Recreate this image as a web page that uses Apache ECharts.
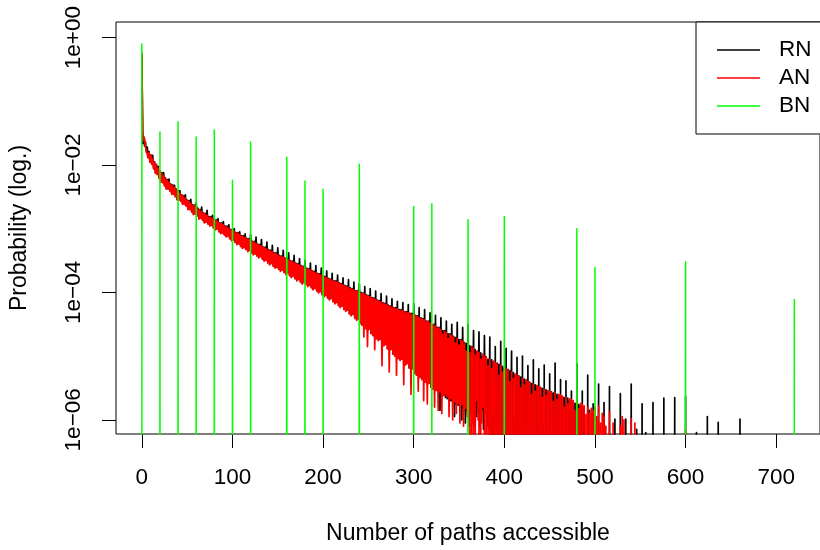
<!DOCTYPE html>
<html>
<head>
<meta charset="utf-8">
<script src="https://cdn.jsdelivr.net/npm/echarts@6/dist/echarts.min.js"></script>
<style>html,body{margin:0;padding:0;background:#fff}#c{width:820px;height:550px}</style>
</head>
<body>
<div id="c"></div>
<script>
// ---- tick labels ----
const xTicks = [0, 100, 200, 300, 400, 500, 600, 700];
const yTicks = [-6, -4, -2, 0];           // log10 of probability
const seriesNames = ['RN', 'AN', 'BN'];

// ---- RN: log10(probability) for x = 0,1,2,... (null = probability 0) ----
const rnLog10 = [
-0.26,-1.66,-1.55,-1.70,-1.64,-1.80,
-1.72,-1.88,-1.79,-1.95,-1.84,-1.98,
-1.85,-2.05,-1.95,-2.12,-1.99,-2.14,
-2.02,-2.20,-2.09,-2.26,-2.12,-2.27,
-2.12,-2.32,-2.20,-2.37,-2.23,-2.37,
-2.22,-2.40,-2.30,-2.45,-2.31,-2.45,
-2.32,-2.49,-2.38,-2.54,-2.40,-2.54,
-2.40,-2.56,-2.47,-2.61,-2.48,-2.61,
-2.47,-2.64,-2.55,-2.69,-2.56,-2.69,
-2.54,-2.73,-2.62,-2.77,-2.63,-2.76,
-2.59,-2.79,-2.68,-2.84,-2.70,-2.83,
-2.66,-2.86,-2.75,-2.90,-2.76,-2.89,
-2.71,-2.92,-2.81,-2.95,-2.81,-2.94,
-2.79,-2.98,-2.86,-3.01,-2.86,-3.00,
-2.84,-3.04,-2.91,-3.07,-2.91,-3.06,
-2.89,-3.09,-2.96,-3.12,-2.96,-3.11,
-2.94,-3.15,-3.01,-3.18,-3.01,-3.17,
-3.00,-3.21,-3.06,-3.24,-3.06,-3.23,
-3.05,-3.27,-3.11,-3.30,-3.11,-3.29,
-3.08,-3.32,-3.15,-3.35,-3.16,-3.33,
-3.09,-3.37,-3.20,-3.40,-3.20,-3.39,
-3.13,-3.42,-3.24,-3.45,-3.25,-3.43,
-3.17,-3.47,-3.29,-3.50,-3.29,-3.49,
-3.21,-3.53,-3.33,-3.56,-3.34,-3.54,
-3.26,-3.58,-3.38,-3.61,-3.38,-3.60,
-3.30,-3.63,-3.42,-3.66,-3.43,-3.64,
-3.34,-3.68,-3.46,-3.71,-3.47,-3.69,
-3.38,-3.73,-3.50,-3.76,-3.51,-3.74,
-3.42,-3.78,-3.54,-3.81,-3.55,-3.79,
-3.47,-3.83,-3.58,-3.86,-3.59,-3.84,
-3.50,-3.87,-3.62,-3.90,-3.63,-3.88,
-3.54,-3.92,-3.66,-3.95,-3.67,-3.93,
-3.58,-3.97,-3.70,-4.00,-3.71,-3.98,
-3.62,-4.03,-3.74,-4.06,-3.75,-4.04,
-3.66,-4.08,-3.78,-4.11,-3.79,-4.09,
-3.70,-4.14,-3.82,-4.17,-3.82,-4.15,
-3.73,-4.20,-3.85,-4.23,-3.86,-4.21,
-3.77,-4.26,-3.89,-4.29,-3.90,-4.27,
-3.80,-4.33,-3.93,-4.36,-3.94,-4.34,
-3.84,-4.40,-3.97,-4.43,-3.97,-4.41,
-3.86,-4.48,-4.00,-4.51,-4.01,-4.50,
-3.91,-4.56,-4.04,-4.60,-4.05,-4.57,
-3.94,-4.64,-4.08,-4.67,-4.09,-4.70,
-3.98,-4.72,-4.12,-4.75,-4.13,-4.73,
-4.02,-4.83,-4.16,-4.83,-4.17,-4.81,
-4.06,-4.88,-4.20,-4.92,-4.21,-4.89,
-4.10,-4.96,-4.24,-4.99,-4.24,-5.00,
-4.14,-5.03,-4.27,-5.06,-4.27,-5.04,
-4.16,-5.12,-4.30,-5.13,-4.30,-5.11,
-4.19,-5.18,-4.33,-5.22,-4.33,-5.19,
-4.17,-5.26,-4.36,-5.29,-4.37,-5.30,
-4.24,-5.33,-4.40,-5.36,-4.41,-5.38,
-4.27,-5.40,-4.45,-5.44,-4.45,-5.42,
-4.32,-5.48,-4.50,-5.51,-4.50,-5.52,
-4.36,-5.53,-4.55,-5.56,-4.55,-5.85,
-4.40,-5.62,-4.60,-5.61,-4.60,-5.65,
-4.45,-5.67,-4.65,-5.66,-4.65,-5.70,
-4.50,-5.72,-4.69,-5.95,-4.71,-5.75,
-4.47,-5.77,-4.74,-5.76,-4.74,-6.00,
-4.55,-5.82,-4.79,-6.05,-4.80,-5.85,
-4.50,-6.10,-4.84,-5.88,-4.85,-6.05,
-4.60,-6.10,-4.90,-5.95,-4.93,-5.90,
-4.62,-6.10,-4.95,-5.85,-5.00,-6.15,
-4.68,-5.90,-5.01,-6.10,-5.05,-6.15,
-4.70,null,-5.06,null,-5.09,null,
-4.85,null,-5.11,-5.95,-5.13,null,
-4.77,null,-5.16,null,-5.19,null,
-4.88,null,-5.21,null,-5.23,-6.00,
-4.92,null,-5.26,null,-5.29,null,
-5.02,null,-5.31,null,-5.33,null,
-5.00,null,-5.36,-6.05,-5.38,null,
-5.15,null,-5.41,null,-5.43,null,
-5.06,null,-5.45,null,-5.47,null,
-5.20,null,-5.49,null,-5.51,null,
-5.14,null,-5.53,null,-5.55,null,
-5.28,null,-5.56,null,-5.58,null,
-5.11,null,-5.60,null,-5.62,null,
-5.37,null,-5.63,null,-5.65,null,
-5.39,null,-5.66,null,-5.70,null,
-5.55,null,-5.72,null,-5.74,null,
-5.12,null,-5.76,null,-5.78,null,
-5.55,null,-5.80,null,null,null,
-5.30,null,-5.85,null,null,null
];
// RN beyond the dense part: only these x have non-zero probability
const rnTailX     = [498, 504, 510, 516, 522, 528, 534, 540, 546, 552, 556, 564, 576, 588, 600, 612, 624, 636, 660];
const rnTailLog10 = [-5.75,-5.44,-5.73,-5.48,-5.99,-5.59,-5.99,-5.44,-6.15,-5.75,-6.20,-5.73,-5.66,-5.65,-5.63,-6.20,-5.95,-6.04,-5.99];

// ---- AN: log10(probability) for x = 0,1,2,... (null = probability 0) ----
const anLog10 = [
-0.26,-1.47,-1.62,-1.58,-1.72,-1.70,
-1.74,-1.89,-1.80,-1.96,-1.85,-1.99,
-1.90,-2.06,-1.96,-2.13,-2.00,-2.15,
-2.05,-2.21,-2.10,-2.27,-2.13,-2.28,
-2.17,-2.33,-2.21,-2.38,-2.24,-2.38,
-2.27,-2.41,-2.31,-2.46,-2.32,-2.46,
-2.35,-2.50,-2.39,-2.55,-2.41,-2.55,
-2.44,-2.57,-2.48,-2.62,-2.49,-2.62,
-2.52,-2.65,-2.56,-2.70,-2.57,-2.70,
-2.60,-2.74,-2.63,-2.78,-2.64,-2.77,
-2.66,-2.80,-2.69,-2.85,-2.71,-2.84,
-2.73,-2.87,-2.76,-2.91,-2.77,-2.90,
-2.79,-2.93,-2.82,-2.96,-2.82,-2.95,
-2.84,-2.99,-2.87,-3.02,-2.87,-3.01,
-2.89,-3.05,-2.92,-3.08,-2.92,-3.07,
-2.94,-3.10,-2.97,-3.13,-2.97,-3.12,
-2.99,-3.16,-3.02,-3.19,-3.02,-3.18,
-3.04,-3.22,-3.07,-3.25,-3.07,-3.24,
-3.09,-3.28,-3.12,-3.31,-3.12,-3.30,
-3.14,-3.33,-3.16,-3.36,-3.17,-3.34,
-3.18,-3.38,-3.21,-3.41,-3.21,-3.40,
-3.23,-3.43,-3.25,-3.46,-3.26,-3.44,
-3.27,-3.48,-3.30,-3.51,-3.30,-3.50,
-3.32,-3.54,-3.34,-3.57,-3.35,-3.55,
-3.36,-3.59,-3.39,-3.62,-3.39,-3.61,
-3.41,-3.64,-3.43,-3.67,-3.44,-3.65,
-3.45,-3.69,-3.47,-3.72,-3.48,-3.70,
-3.49,-3.74,-3.51,-3.77,-3.52,-3.75,
-3.53,-3.79,-3.55,-3.82,-3.56,-3.80,
-3.57,-3.84,-3.59,-3.87,-3.60,-3.85,
-3.61,-3.88,-3.63,-3.91,-3.64,-3.89,
-3.65,-3.93,-3.67,-3.96,-3.68,-3.94,
-3.69,-3.98,-3.71,-4.01,-3.72,-3.99,
-3.73,-4.04,-3.75,-4.07,-3.76,-4.05,
-3.77,-4.09,-3.79,-4.12,-3.80,-4.10,
-3.81,-4.15,-3.83,-4.18,-3.83,-4.16,
-3.84,-4.21,-3.86,-4.24,-3.87,-4.22,
-3.88,-4.27,-3.90,-4.30,-3.91,-4.28,
-3.92,-4.34,-3.94,-4.37,-3.95,-4.35,
-3.96,-4.41,-3.98,-4.44,-3.98,-4.42,
-3.99,-4.49,-4.01,-4.52,-4.02,-4.70,
-4.03,-4.57,-4.05,-4.85,-4.06,-4.58,
-4.07,-4.65,-4.09,-4.68,-4.10,-4.90,
-4.11,-4.73,-4.13,-4.76,-4.14,-4.74,
-4.15,-5.15,-4.17,-4.84,-4.18,-4.82,
-4.19,-4.89,-4.21,-5.25,-4.22,-4.90,
-4.23,-4.97,-4.25,-5.00,-4.25,-5.30,
-4.26,-5.04,-4.28,-5.07,-4.28,-5.05,
-4.29,-5.45,-4.31,-5.14,-4.31,-5.12,
-4.32,-5.19,-4.34,-5.60,-4.34,-5.20,
-4.35,-5.27,-4.37,-5.30,-4.38,-5.55,
-4.39,-5.34,-4.41,-5.37,-4.42,-5.70,
-4.43,-5.41,-4.46,-5.75,-4.46,-5.43,
-4.48,-5.49,-4.51,-5.52,-4.51,-5.80,
-4.53,-5.54,-4.56,-5.85,-4.56,-5.56,
-4.58,-5.90,-4.66,-5.62,-4.61,-5.61,
-4.63,-5.64,-4.72,-5.95,-4.66,-5.66,
-4.68,-6.00,-4.70,-5.72,-4.80,-5.90,
-4.72,-5.74,-4.83,-6.05,-4.75,-5.76,
-4.77,-6.10,-4.80,-5.82,-4.92,-5.95,
-4.82,-5.84,-4.95,null,-4.86,-6.05,
-4.88,null,-4.98,-5.70,-4.92,-6.00,
-4.94,null,-5.05,-6.05,-4.97,-5.80,
-5.00,null,-5.02,null,-5.15,null,
-5.05,null,-5.20,-5.90,-5.08,null,
-5.10,null,-5.12,null,-5.30,null,
-5.15,null,-5.25,null,-5.18,-5.95,
-5.20,null,-5.22,null,-5.40,null,
-5.25,null,-5.35,-6.00,-5.28,null,
-5.30,null,-5.32,null,-5.50,null,
-5.35,null,-5.45,null,-5.37,null,
-5.40,null,-5.42,null,-5.60,null,
-5.44,null,-5.55,null,-5.46,null,
-5.48,null,-5.50,null,-5.65,-6.10,
-5.52,null,-5.62,null,-5.54,null,
-5.55,null,-5.57,null,-5.72,null,
-5.58,null,-5.68,null,-5.60,null,
-5.61,null,-5.63,null,-5.80,null,
-5.65,null,-5.75,null,-5.67,null,
-5.68,null,-5.70,null,-5.85,null,
-5.72,null,-5.82,null,-5.74,null,
-5.76,null,-5.78,null,-5.92,null,
-5.80,null,-5.90,null,-5.82,null,
-5.85,null,-5.80,null,-5.95,null,
-5.78,null,-6.05,null,-5.90,null,
-5.95,null,-6.10,null,null,null,
-5.87,null,null,null,-6.05,null,
null,null,null,null,null,null,
-6.10,null,-5.95,null,-6.00,null,
null,null,null,null,null,null,
-5.98,null,null,null,-6.05,null
];
const anTailX     = [600];
const anTailLog10 = [-6.16];

// ---- BN: only these x have non-zero probability ----
const bnX     = [0, 20, 40, 60, 80, 100, 120, 160, 180, 200, 240, 300, 320, 360, 400, 480, 500, 600, 720];
const bnLog10 = [-0.10,-1.48,-1.32,-1.56,-1.45,-2.24,-1.64,-1.88,-2.25,-2.38,-1.99,-2.65,-2.61,-2.86,-2.81,-3.00,-3.61,-3.52,-4.11];

// probability 0 -> log10 far below the axis, so the line drops off the bottom (as in the original)
const ZERO_LOG = -60;
function buildSeries(dense, tailX, tailLog, lastX) {
  const tail = new Map(tailX.map((x, i) => [x, tailLog[i]]));
  const out = [];
  for (let x = 0; x <= lastX; x++) {
    let v = x < dense.length ? dense[x] : (tail.has(x) ? tail.get(x) : null);
    out.push([x, v == null ? ZERO_LOG : v]);
  }
  return out;
}
const rnData = buildSeries(rnLog10, rnTailX, rnTailLog10, 661);
const anData = buildSeries(anLog10, anTailX, anTailLog10, 601);
const bnData = buildSeries([], bnX, bnLog10, 720);

const FONT = '"Liberation Sans", Arial, Helvetica, sans-serif';
const colors = ['#000000', '#FF0000', '#00FF00'];

function lineSeries(name, data, color, width) {
  return {
    type: 'line', name: name, data: data,
    showSymbol: false, symbol: 'none', smooth: false, clip: true,
    color: color,
    itemStyle: { color: color, borderWidth: 0 },
    lineStyle: { color: color, width: width, join: 'round', cap: 'round' },
    emphasis: { disabled: true }, silent: true
  };
}

const chart = echarts.init(document.getElementById('c'), null, { renderer: 'canvas', devicePixelRatio: 1 });
chart.setOption({
  animation: false,
  backgroundColor: '#ffffff',
  grid: { left: 116, right: -4, top: 22, bottom: 114, show: true, borderColor: '#000', borderWidth: 1, backgroundColor: 'transparent' },
  xAxis: {
    type: 'value', min: -28.5, max: 748.3,
    name: 'Number of paths accessible', nameLocation: 'middle', nameGap: 88,
    nameTextStyle: { fontFamily: FONT, fontSize: 23, color: '#000' },
    axisLine: { show: false, onZero: false }, splitLine: { show: false },
    axisTick: { show: true, length: 14, customValues: xTicks, lineStyle: { color: '#000', width: 1 } },
    axisLabel: { customValues: xTicks, margin: 32, fontFamily: FONT, fontSize: 22.5, color: '#000' }
  },
  yAxis: {
    type: 'value', min: -6.223, max: 0.245,
    name: 'Probability (log.)', nameLocation: 'middle', nameGap: 85, nameRotate: 90,
    nameTextStyle: { fontFamily: FONT, fontSize: 23, color: '#000' },
    axisLine: { show: false, onZero: false }, splitLine: { show: false },
    axisTick: { show: true, length: 14, customValues: yTicks, lineStyle: { color: '#000', width: 1 } },
    axisLabel: {
      customValues: yTicks, rotate: 90, margin: 31, fontFamily: FONT, fontSize: 22.5, color: '#000',
      formatter: function (v) {
        const e = Math.round(v);
        return e === 0 ? '1e+00' : '1e\u2212' + String(-e).padStart(2, '0');
      }
    }
  },
  legend: {
    data: seriesNames, orient: 'vertical', left: 696, top: 22,
    padding: [14, 20, 14, 21], itemGap: 0, itemWidth: 43, itemHeight: 1.5,
    icon: 'rect', selectedMode: false,
    borderColor: '#000', borderWidth: 1, backgroundColor: '#fff',
    itemStyle: { borderWidth: 0 },
    textStyle: { fontFamily: FONT, fontSize: 22.5, color: '#000', lineHeight: 28, padding: [0, 0, 0, 14] }
  },
  series: [
    lineSeries(seriesNames[0], rnData, colors[0], 1.7),
    lineSeries(seriesNames[1], anData, colors[1], 1.7),
    lineSeries(seriesNames[2], bnData, colors[2], 1.5)
  ]
});
</script>
</body>
</html>
